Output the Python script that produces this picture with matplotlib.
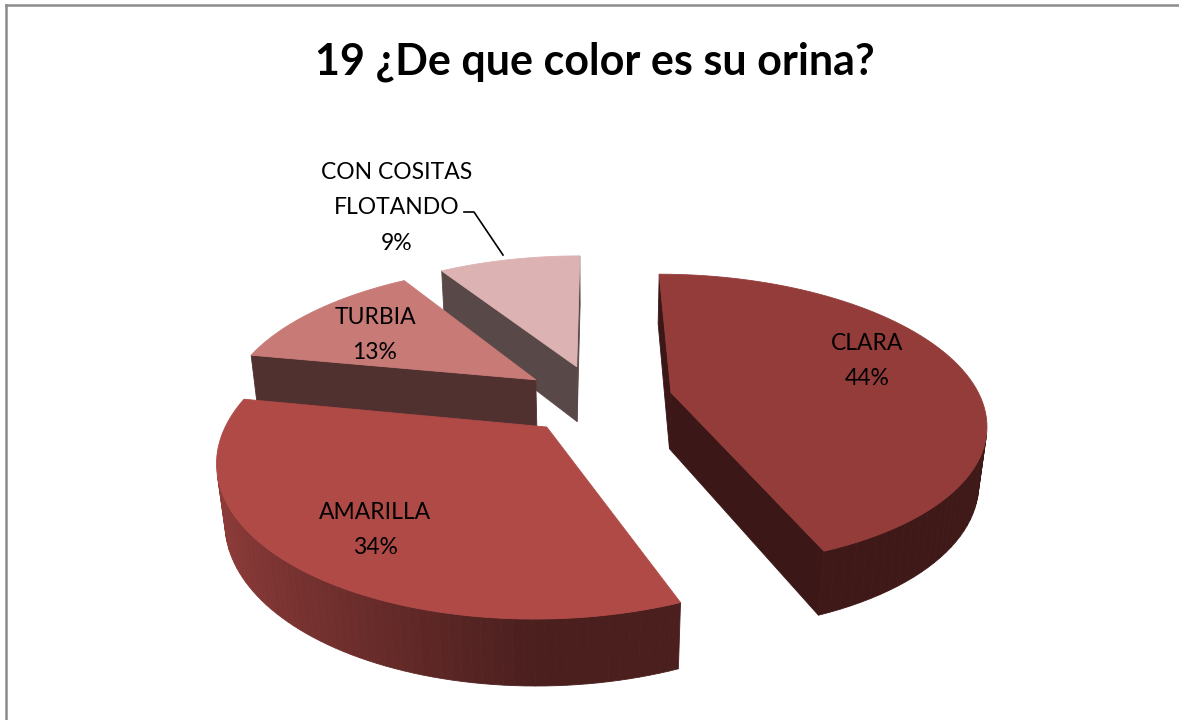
import numpy as np
from matplotlib import pyplot as plt
from matplotlib.patches import Polygon

labels = ['CLARA', 'AMARILLA', 'TURBIA', 'CON COSITAS\nFLOTANDO']
values = [44, 34, 13, 9]
top_colors = ['#943c3a', '#b04a47', '#c87a77', '#dcb3b2']
title = '19 ¿De que color es su orina?'

# view (pixel units of the 1179x720 canvas)
CX, CY = 597, 399
SCALE = 310
ELEV = np.radians(27.5)
DIST = 4.65
THICK = 0.21
EXPLODE = 0.245


def project(X, Y, Z):
    depth = Y * np.cos(ELEV) - Z * np.sin(ELEV)
    s = DIST / (DIST + depth)
    sx = CX + X * s * SCALE
    sy = CY - (Y * np.sin(ELEV) + Z * np.cos(ELEV)) * s * SCALE
    return np.column_stack([np.atleast_1d(sx), np.atleast_1d(sy)])


def area(pts):
    x, y = pts[:, 0], pts[:, 1]
    return 0.5 * np.sum(x * np.roll(y, -1) - np.roll(x, -1) * y)


def shade(color, f):
    rgb = np.array(plt.matplotlib.colors.to_rgb(color))
    return tuple(np.clip(rgb * f, 0, 1))


def draw_slice(ax, t0, t1, color):
    tm = (t0 + t1) / 2
    ox, oy = EXPLODE * np.sin(tm), EXPLODE * np.cos(tm)
    ts = np.linspace(t0, t1, 80)
    rx, ry = ox + np.sin(ts), oy + np.cos(ts)

    top = np.vstack([project(ox, oy, 0), project(rx, ry, 0)])
    ref = np.sign(area(top))

    faces = []
    # radial walls
    for t, first in ((t0, True), (t1, False)):
        ex, ey = ox + np.sin(t), oy + np.cos(t)
        ct, cb = project(ox, oy, 0)[0], project(ox, oy, -THICK)[0]
        et, eb = project(ex, ey, 0)[0], project(ex, ey, -THICK)[0]
        poly = np.array([ct, cb, eb, et]) if first else np.array([ct, et, eb, cb])
        faces.append((poly, shade(color, 0.4)))
    # outer wall, lit from the left
    pt = project(rx, ry, 0)
    pb = project(rx, ry, -THICK)
    for i in range(len(ts) - 1):
        poly = np.array([pt[i], pb[i], pb[i + 1], pt[i + 1]])
        mid = (ts[i] + ts[i + 1]) / 2
        f = 0.42 + 0.4 * max(0.0, -np.sin(mid))
        faces.append((poly, shade(color, f)))

    for poly, c in faces:
        if np.sign(area(poly)) == ref:
            ax.add_patch(Polygon(poly, closed=True, facecolor=c, edgecolor=c, lw=0.6))
    ax.add_patch(Polygon(top, closed=True, facecolor=color, edgecolor=color, lw=0.6))


fig = plt.figure(figsize=(11.79, 7.2), dpi=100)
ax = fig.add_axes([0, 0, 1, 1])
ax.set_xlim(0, 1179)
ax.set_ylim(720, 0)
ax.axis('off')

# frame (top and left only are visible)
ax.plot([5.5, 1179], [4.5, 4.5], color='#8c8c8c', lw=1.8)
ax.plot([5.5, 5.5], [4.5, 720], color='#8c8c8c', lw=1.8)

fracs = np.array(values) / np.sum(values)
bounds = np.concatenate([[0], np.cumsum(fracs)]) * 2 * np.pi
order = sorted(range(len(values)), key=lambda i: -np.cos((bounds[i] + bounds[i + 1]) / 2))
for i in order:
    draw_slice(ax, bounds[i], bounds[i + 1], top_colors[i])

font = 'Lato'
ax.text(595, 62, title, ha='center', va='center', fontsize=31, fontweight='bold', family=font)

lab_pos = [(867, 361), (375, 530), (375, 335), (397, 208)]
for lab, v, (x, y) in zip(labels, values, lab_pos):
    ax.text(x, y, f'{lab}\n{v}%', ha='center', va='center', fontsize=16.5,
            family=font, linespacing=1.85, color='black')

# leader line for the small slice
ax.plot([464, 474, 503], [212, 212, 255], color='black', lw=1.2)

fig.savefig('out.png', dpi=100)
